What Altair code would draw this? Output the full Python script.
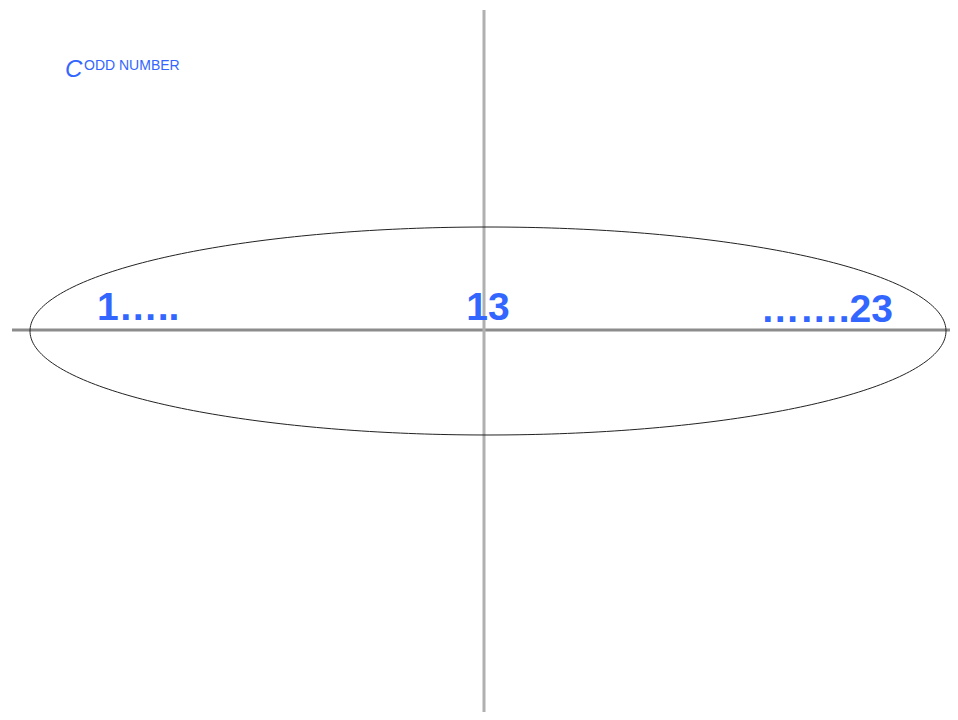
import altair as alt
import numpy as np
import pandas as pd

# Number-line labels (odd numbers 1 ... 23, centre 13)
label_text = ["1\u2026..", "13", "\u2026\u2026.23"]
label_x = [-19.35, 0.2, 20.45]
label_y = [0.5, 0.5, 0.4]
label_align = ["left", "center", "right"]

# Ellipse enclosing the odd numbers
ell_cx, ell_cy = 0.2, -0.05
ell_rx, ell_ry = 22.9, 5.2

# Axes extents
x_dom = [-23.8, 23.3]
y_dom = [-19.1, 16.1]
hline_x = [-23.6, 23.3]
vline_y = [-19.5, 16.0]

# Title pieces
title_big = "C"
title_small = "ODD NUMBER"

BLUE = "#3366ff"

xs = alt.Scale(domain=x_dom, nice=False, zero=False)
ys = alt.Scale(domain=y_dom, nice=False, zero=False)

t = np.linspace(0, 2 * np.pi, 361)
ell = pd.DataFrame({
    "x": ell_cx + ell_rx * np.cos(t),
    "y": ell_cy + ell_ry * np.sin(t),
    "o": np.arange(len(t)),
})

hline = alt.Chart(pd.DataFrame({"x": [hline_x[0]], "x2": [hline_x[1]], "y": [0]})).mark_rule(
    color="#8c8c8c", strokeWidth=3, clip=True
).encode(x=alt.X("x:Q", scale=xs, axis=None), x2="x2:Q", y=alt.Y("y:Q", scale=ys, axis=None))

vline = alt.Chart(pd.DataFrame({"y": [vline_y[0]], "y2": [vline_y[1]], "x": [0]})).mark_rule(
    color="#b0b0b0", strokeWidth=3, clip=True
).encode(x=alt.X("x:Q", scale=xs, axis=None), y=alt.Y("y:Q", scale=ys, axis=None), y2="y2:Q")

ellipse = alt.Chart(ell).mark_line(color="#222222", strokeWidth=1).encode(
    x=alt.X("x:Q", scale=xs, axis=None),
    y=alt.Y("y:Q", scale=ys, axis=None),
    order="o:Q",
)

labels = []
for txt, lx, ly, al in zip(label_text, label_x, label_y, label_align):
    labels.append(
        alt.Chart(pd.DataFrame({"x": [lx], "y": [ly], "t": [txt]})).mark_text(
            align=al, baseline="alphabetic", font="Liberation Sans", fontWeight="bold",
            fontSize=39, color=BLUE
        ).encode(x=alt.X("x:Q", scale=xs, axis=None), y=alt.Y("y:Q", scale=ys, axis=None), text="t:N")
    )

tb = alt.Chart(pd.DataFrame({"x": [-20.95], "y": [12.65], "t": [title_big]})).mark_text(
    align="left", baseline="alphabetic", font="Liberation Sans", fontStyle="italic",
    fontSize=24, color=BLUE
).encode(x=alt.X("x:Q", scale=xs, axis=None), y=alt.Y("y:Q", scale=ys, axis=None), text="t:N")

ts = alt.Chart(pd.DataFrame({"x": [-20.0], "y": [13.0], "t": [title_small]})).mark_text(
    align="left", baseline="alphabetic", font="Liberation Sans",
    fontSize=14, color=BLUE
).encode(x=alt.X("x:Q", scale=xs, axis=None), y=alt.Y("y:Q", scale=ys, axis=None), text="t:N")

chart = alt.layer(hline, vline, ellipse, *labels, tb, ts).properties(
    width=942, height=704, autosize=alt.AutoSizeParams(type="none"), padding=0
).configure_view(stroke=None)

chart.save("out.html", embed_options={"renderer": "svg", "actions": False})
